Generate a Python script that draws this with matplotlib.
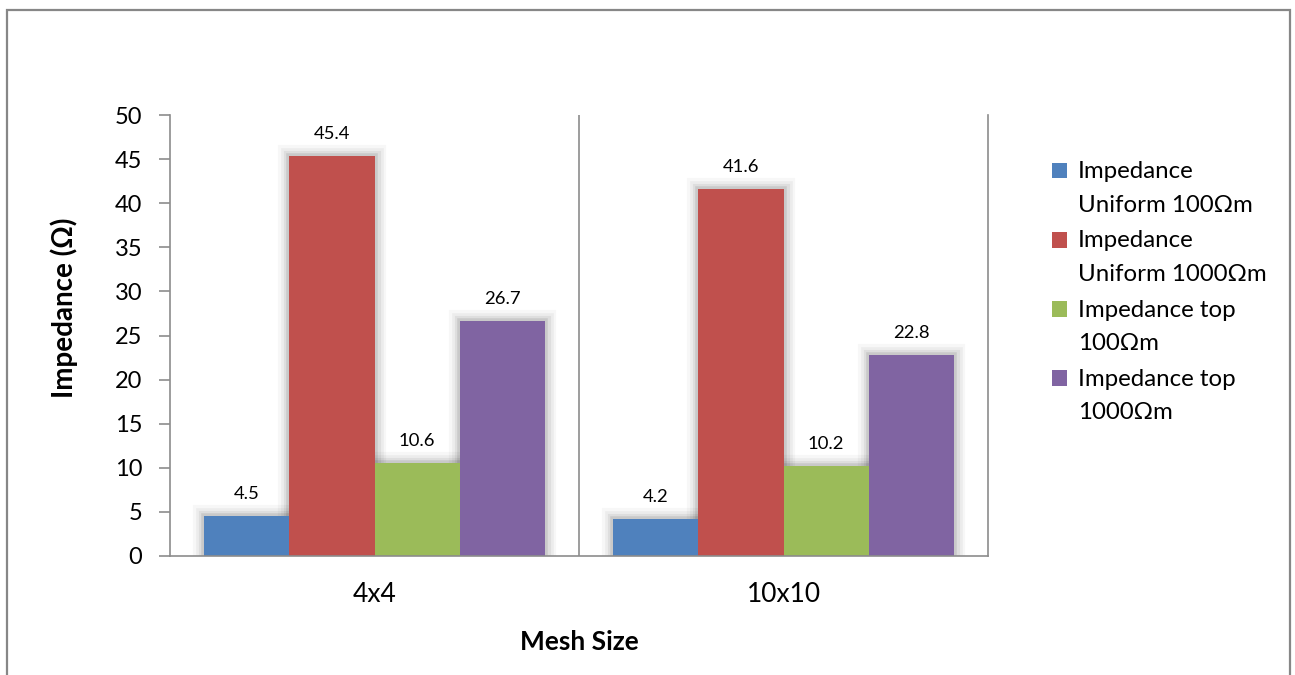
import matplotlib
matplotlib.use("Agg")
import matplotlib.pyplot as plt
import matplotlib.patheffects as pe
from matplotlib.container import BarContainer
from matplotlib.legend_handler import HandlerPatch, update_from_first_child
from matplotlib.patches import Rectangle
import numpy as np

plt.rcParams["font.family"] = ["Lato", "DejaVu Sans"]

categories = ["4x4", "10x10"]
series_names = [
    "Impedance\nUniform 100Ωm",
    "Impedance\nUniform 1000Ωm",
    "Impedance top\n100Ωm",
    "Impedance top\n1000Ωm",
]
uniform_100 = [4.5, 4.2]
uniform_1000 = [45.4, 41.6]
top_100 = [10.6, 10.2]
top_1000 = [26.7, 22.8]
colors = ["#4F81BD", "#C0504D", "#9BBB59", "#8064A2"]
y_ticks = [0, 5, 10, 15, 20, 25, 30, 35, 40, 45, 50]

series = [uniform_100, uniform_1000, top_100, top_1000]
grey = "#8C8C8C"

fig = plt.figure(figsize=(12.95, 6.75), dpi=100)
ax = fig.add_axes([0.1313, 0.1763, 0.6317, 0.6533])

# outer chart frame
fig.patches.append(Rectangle((0.0054, -0.02), 0.9907, 1.005, transform=fig.transFigure,
                             fill=False, edgecolor="#878787", linewidth=1.6))

x = np.arange(len(categories))
width = 0.2086
offsets = (np.arange(len(series)) - 1.5) * width

# soft shadow pass, drawn under the real bars
shadow = [pe.Stroke(linewidth=lw, foreground="black", alpha=a)
          for lw, a in [(16, 0.03), (12, 0.045), (8, 0.06), (4, 0.09)]]
for vals, off in zip(series, offsets):
    sb = ax.bar(x + off, vals, width, color="white", zorder=2, linewidth=0)
    for p in sb:
        p.set_path_effects(shadow + [pe.Normal()])

for name, vals, off, c in zip(series_names, series, offsets, colors):
    bars = ax.bar(x + off, vals, width, color=c, label=name, zorder=3, linewidth=0)
    for b, v in zip(bars, vals):
        ax.annotate(f"{v}", (b.get_x() + b.get_width() / 2, v), xytext=(0, 10),
                    textcoords="offset points", ha="center", va="bottom", fontsize=13.3)

ax.set_xlim(-0.5, len(categories) - 0.5)
ax.set_ylim(0, 50)
ax.set_yticks(y_ticks)
ax.set_xticks(x)
ax.set_xticklabels(categories, fontsize=19)
ax.tick_params(axis="y", labelsize=17, length=8, width=1.2, color=grey, pad=12)
ax.tick_params(axis="x", length=0, pad=19)

# category divider lines
for xb in x[:-1] + 0.5:
    ax.axvline(xb, color=grey, linewidth=1.2, zorder=1)

for side in ["left", "bottom", "right"]:
    ax.spines[side].set_color(grey)
    ax.spines[side].set_linewidth(1.2)
ax.spines["top"].set_visible(False)
ax.spines["bottom"].set_zorder(4)

ax.set_ylabel("Impedance (Ω)", fontsize=20, fontweight="bold")
ax.yaxis.set_label_coords(-0.113, 0.562)
ax.set_xlabel("Mesh Size", fontsize=19, fontweight="bold", labelpad=16)


def top_aligned_square(legend, orig_handle, xdescent, ydescent, width, height, fontsize):
    # put the colour square beside the first text line, like Excel does
    return Rectangle((-xdescent, -ydescent + 0.75 * fontsize), width, height)


leg = ax.legend(loc="upper left", bbox_to_anchor=(1.066, 0.917), frameon=False, fontsize=17.3,
                handlelength=0.63, handleheight=0.63, handletextpad=0.45, labelspacing=0.6,
                borderaxespad=0,
                handler_map={BarContainer: HandlerPatch(patch_func=top_aligned_square,
                                                        update_func=update_from_first_child)})
for t in leg.get_texts():
    t.set_linespacing(1.75)

fig.savefig("out.png", dpi=100)
